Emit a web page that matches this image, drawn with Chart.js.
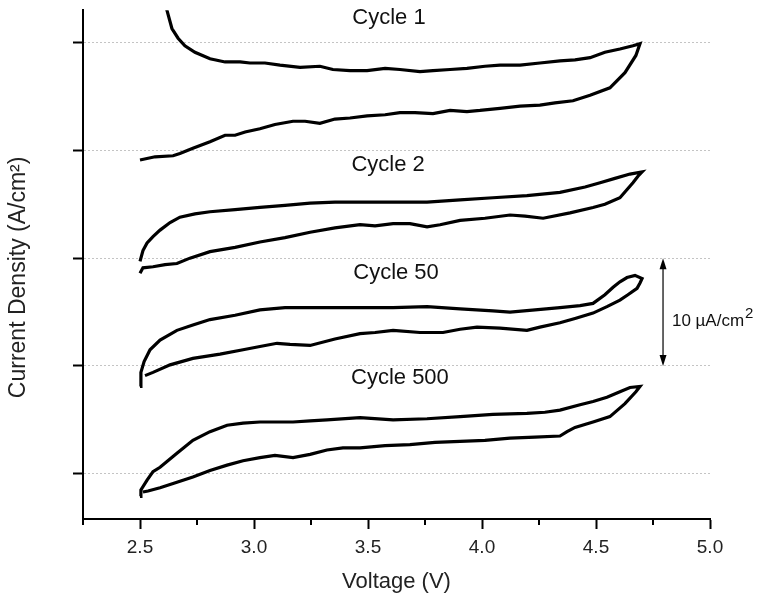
<!DOCTYPE html>
<html>
<head>
<meta charset="utf-8">
<script src="https://cdn.jsdelivr.net/npm/chart.js@4"></script>
<style>
  body { margin: 0; background: #fff; }
</style>
</head>
<body>
<canvas id="cvChart" width="767" height="598"></canvas>
<script>
// axis ticks
const X_TICKS = [2.5, 3.0, 3.5, 4.0, 4.5, 5.0];
const X_MINOR = [2.25, 2.75, 3.25, 3.75, 4.25, 4.75];
const Y_TICKS = [0, 10, 20, 30, 40];

// Cycle 1 (offset by 30)
const c1V = [2.610, 2.618, 2.640, 2.667, 2.697, 2.741, 2.807, 2.873, 2.939, 2.982, 3.048, 3.114, 3.202, 3.289, 3.346, 3.421, 3.496, 3.575, 3.640, 3.728, 3.785, 3.860, 3.934, 4.013, 4.079, 4.167, 4.254, 4.342, 4.408, 4.474, 4.539, 4.605, 4.662, 4.693,
  4.675, 4.627, 4.561, 4.474, 4.399, 4.320, 4.254, 4.167, 4.079, 3.991, 3.934, 3.860, 3.785, 3.706, 3.640, 3.575, 3.496, 3.421, 3.355, 3.289, 3.224, 3.171, 3.092, 3.026, 2.961, 2.917, 2.873, 2.807, 2.732, 2.675, 2.645, 2.566, 2.500];
const c1J = [43.7, 43.0, 41.3, 40.4, 39.7, 39.1, 38.5, 38.2, 38.2, 38.1, 38.1, 37.9, 37.7, 37.8, 37.5, 37.4, 37.4, 37.6, 37.5, 37.3, 37.4, 37.5, 37.6, 37.8, 37.9, 37.9, 38.1, 38.3, 38.4, 38.6, 39.1, 39.4, 39.7, 39.9,
  38.8, 37.2, 35.8, 35.1, 34.6, 34.4, 34.2, 34.1, 33.9, 33.7, 33.6, 33.7, 33.4, 33.5, 33.5, 33.3, 33.2, 33.0, 32.9, 32.5, 32.7, 32.7, 32.4, 32.0, 31.7, 31.4, 31.4, 30.8, 30.2, 29.7, 29.5, 29.4, 29.1];

// Cycle 2 (offset by 20)
const c2V = [2.500, 2.513, 2.531, 2.557, 2.588, 2.632, 2.675, 2.741, 2.807, 2.917, 3.026, 3.136, 3.246, 3.355, 3.465, 3.610, 3.759, 3.904, 4.048, 4.197, 4.342, 4.452, 4.518, 4.583, 4.649, 4.702,
  4.684, 4.662, 4.605, 4.539, 4.487, 4.386, 4.268, 4.189, 4.123, 4.013, 3.904, 3.816, 3.759, 3.684, 3.610, 3.531, 3.465, 3.355, 3.246, 3.136, 3.026, 2.917, 2.807, 2.719, 2.662, 2.610, 2.557, 2.513, 2.500];
const c2J = [19.7, 20.7, 21.4, 22.0, 22.6, 23.3, 23.8, 24.1, 24.3, 24.5, 24.7, 24.9, 25.1, 25.2, 25.2, 25.2, 25.2, 25.4, 25.6, 25.8, 26.1, 26.6, 27.0, 27.4, 27.8, 28.0,
  27.6, 27.0, 25.6, 25.0, 24.7, 24.2, 23.7, 23.9, 24.0, 23.7, 23.5, 23.1, 22.9, 23.2, 23.2, 23.0, 23.1, 22.8, 22.4, 21.9, 21.5, 21.0, 20.6, 20.0, 19.5, 19.4, 19.2, 19.1, 18.6];

// Cycle 50 (offset by 10)
const c50V = [2.500, 2.504, 2.518, 2.544, 2.588, 2.662, 2.732, 2.807, 2.917, 3.026, 3.136, 3.246, 3.355, 3.465, 3.610, 3.759, 3.904, 4.048, 4.123, 4.233, 4.342, 4.430, 4.487, 4.539, 4.575, 4.605, 4.636, 4.671, 4.702,
  4.693, 4.680, 4.640, 4.605, 4.548, 4.487, 4.408, 4.342, 4.254, 4.197, 4.079, 3.978, 3.904, 3.829, 3.728, 3.610, 3.531, 3.465, 3.355, 3.246, 3.158, 3.101, 3.026, 2.952, 2.851, 2.732, 2.632, 2.557, 2.522];
const c50J = [8.1, 9.4, 10.4, 11.5, 12.4, 13.3, 13.8, 14.3, 14.7, 15.2, 15.4, 15.4, 15.4, 15.4, 15.4, 15.5, 15.3, 15.1, 15.0, 15.2, 15.4, 15.6, 15.8, 16.6, 17.3, 17.8, 18.2, 18.4, 18.1,
  17.7, 17.2, 16.6, 16.1, 15.5, 14.9, 14.4, 14.0, 13.6, 13.3, 13.5, 13.6, 13.4, 13.1, 13.1, 13.3, 13.1, 13.0, 12.5, 11.9, 12.0, 12.1, 11.8, 11.5, 11.1, 10.7, 10.1, 9.4, 9.1];

// Cycle 500 (no offset)
const c500V = [2.500, 2.504, 2.531, 2.557, 2.588, 2.662, 2.732, 2.807, 2.882, 2.952, 3.026, 3.171, 3.246, 3.320, 3.465, 3.610, 3.759, 3.904, 4.048, 4.197, 4.276, 4.342, 4.430, 4.487, 4.548, 4.605, 4.649, 4.693,
  4.675, 4.627, 4.561, 4.487, 4.408, 4.373, 4.342, 4.232, 4.123, 4.013, 3.904, 3.794, 3.684, 3.575, 3.465, 3.390, 3.320, 3.246, 3.171, 3.092, 3.026, 2.952, 2.882, 2.807, 2.732, 2.662, 2.588, 2.535, 2.513];
const c500J = [-2.1, -1.5, -0.6, 0.2, 0.6, 1.9, 3.1, 3.9, 4.5, 4.7, 4.8, 4.8, 4.9, 5.0, 5.2, 5.0, 5.1, 5.3, 5.5, 5.6, 5.7, 5.9, 6.4, 6.7, 7.1, 7.6, 8.0, 8.1,
  7.6, 6.5, 5.3, 4.8, 4.3, 3.9, 3.5, 3.4, 3.3, 3.1, 3.0, 2.9, 2.7, 2.6, 2.4, 2.4, 2.2, 1.8, 1.5, 1.7, 1.5, 1.2, 0.8, 0.3, -0.3, -0.8, -1.3, -1.6, -1.7];

// curve labels: [text, voltage, current]
const cycleLabels = [
  ['Cycle 1', 3.592, 42.3],
  ['Cycle 2', 3.588, 28.6],
  ['Cycle 50', 3.623, 18.6],
  ['Cycle 500', 3.640, 8.9]
];

// 10 uA/cm2 scale bar
const barV = 4.794;
const barFrom = 10;
const barTo = 20;
const barLabelV = 4.833;
const barLabelJ = 14.3;

const FONT = "'Liberation Sans', Arial, sans-serif";

function toPoints(v, j) {
  return v.map((x, i) => ({ x: x, y: j[i] }));
}

function curve(label, v, j) {
  return {
    label: label,
    data: toPoints(v, j),
    showLine: true,
    borderColor: '#000',
    borderWidth: 3.2,
    pointRadius: 0,
    fill: false,
    tension: 0
  };
}

const extras = {
  id: 'extras',
  afterDraw(chart) {
    const ctx = chart.ctx;
    const xs = chart.scales.x;
    const ys = chart.scales.y;

    // minor ticks on the x axis
    ctx.save();
    ctx.strokeStyle = '#000';
    ctx.lineWidth = 2;
    X_MINOR.forEach(v => {
      const px = Math.round(xs.getPixelForValue(v));
      ctx.beginPath();
      ctx.moveTo(px, xs.top);
      ctx.lineTo(px, xs.top + 6);
      ctx.stroke();
    });

    // cycle labels
    ctx.fillStyle = '#111';
    ctx.font = '22px ' + FONT;
    ctx.textAlign = 'center';
    ctx.textBaseline = 'middle';
    cycleLabels.forEach(l => {
      ctx.fillText(l[0], xs.getPixelForValue(l[1]), ys.getPixelForValue(l[2]));
    });

    // scale bar with arrow heads
    const ax = xs.getPixelForValue(barV);
    const y1 = ys.getPixelForValue(barTo);
    const y2 = ys.getPixelForValue(barFrom);
    ctx.strokeStyle = '#333';
    ctx.lineWidth = 1.5;
    ctx.beginPath();
    ctx.moveTo(ax, y1 + 6);
    ctx.lineTo(ax, y2 - 6);
    ctx.stroke();
    ctx.fillStyle = '#000';
    ctx.beginPath();
    ctx.moveTo(ax, y1);
    ctx.lineTo(ax - 3.5, y1 + 11);
    ctx.lineTo(ax + 3.5, y1 + 11);
    ctx.closePath();
    ctx.fill();
    ctx.beginPath();
    ctx.moveTo(ax, y2);
    ctx.lineTo(ax - 3.5, y2 - 11);
    ctx.lineTo(ax + 3.5, y2 - 11);
    ctx.closePath();
    ctx.fill();

    const lx = xs.getPixelForValue(barLabelV);
    const ly = ys.getPixelForValue(barLabelJ);
    ctx.fillStyle = '#111';
    ctx.textAlign = 'left';
    ctx.textBaseline = 'alphabetic';
    ctx.font = '17px ' + FONT;
    const main = '10 \u00B5A/cm';
    ctx.fillText(main, lx, ly + 6);
    const w = ctx.measureText(main).width;
    ctx.font = '15px ' + FONT;
    ctx.fillText('2', lx + w + 1, ly - 2);
    ctx.restore();
  }
};

new Chart(document.getElementById('cvChart'), {
  type: 'scatter',
  data: {
    datasets: [
      curve('Cycle 1', c1V, c1J),
      curve('Cycle 2', c2V, c2J),
      curve('Cycle 50', c50V, c50J),
      curve('Cycle 500', c500V, c500J)
    ]
  },
  options: {
    responsive: false,
    animation: false,
    layout: { padding: { left: 0, top: 10, right: 57, bottom: 0 } },
    plugins: {
      legend: { display: false },
      tooltip: { enabled: false }
    },
    scales: {
      x: {
        type: 'linear',
        min: 2.25,
        max: 5.0,
        afterBuildTicks: s => { s.ticks = X_TICKS.map(v => ({ value: v })); },
        afterFit: s => { s.height = 79; },
        ticks: {
          callback: v => v.toFixed(1),
          color: '#222',
          font: { family: FONT, size: 19 },
          padding: 7,
          maxRotation: 0
        },
        grid: {
          drawOnChartArea: false,
          tickLength: 10,
          tickWidth: 2,
          tickColor: '#000'
        },
        border: { color: '#000', width: 2 },
        title: {
          display: true,
          text: 'Voltage (V)',
          color: '#222',
          font: { family: FONT, size: 22 },
          padding: { top: 0, bottom: 3 }
        }
      },
      y: {
        type: 'linear',
        min: -4.2,
        max: 43,
        afterBuildTicks: s => { s.ticks = Y_TICKS.map(v => ({ value: v })); },
        afterFit: s => { s.width = 83; },
        ticks: { callback: () => '' },
        grid: {
          color: '#c4c4c4',
          lineWidth: 1,
          tickLength: 10,
          tickWidth: 2,
          tickColor: '#000',
          tickBorderDash: []
        },
        border: { color: '#000', width: 2, dash: [2, 2] },
        title: {
          display: true,
          text: 'Current Density (A/cm\u00B2)    ',
          color: '#222',
          font: { family: FONT, size: 23 },
          padding: { top: 5, bottom: 0 }
        }
      }
    }
  },
  plugins: [extras]
});
</script>
</body>
</html>
